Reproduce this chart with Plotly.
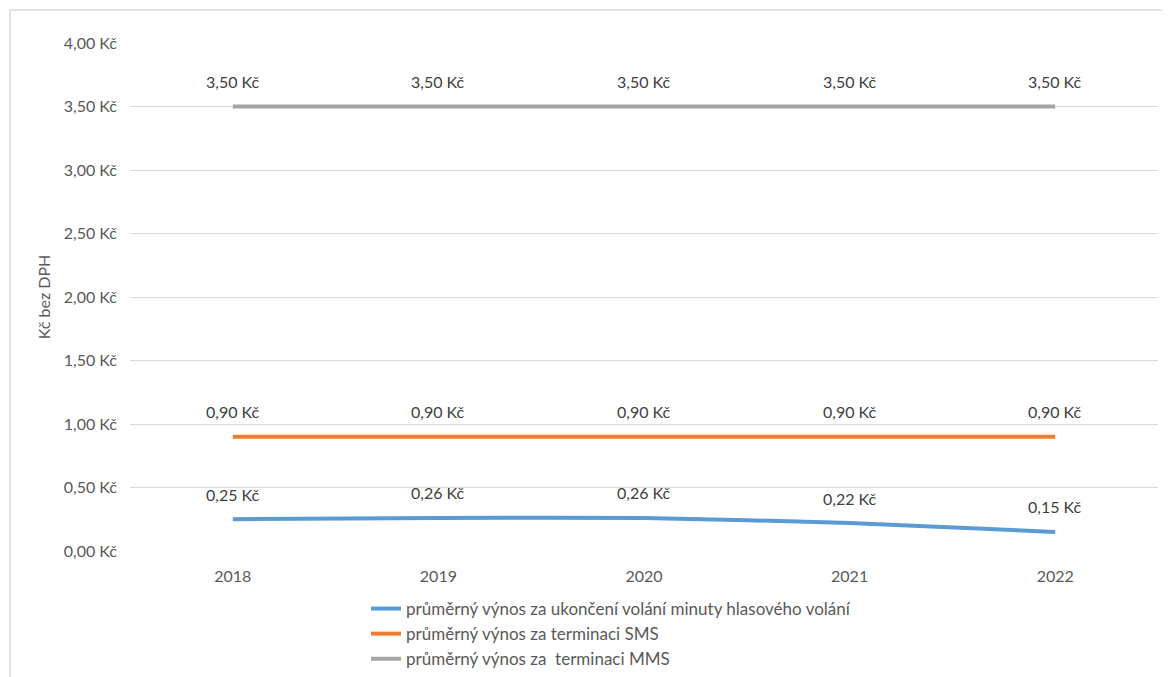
import plotly.graph_objects as go

years = ["2018", "2019", "2020", "2021", "2022"]
voice = [0.25, 0.26, 0.26, 0.22, 0.15]
sms = [0.90, 0.90, 0.90, 0.90, 0.90]
mms = [3.50, 3.50, 3.50, 3.50, 3.50]

names = [
    "průměrný výnos za ukončení volání minuty hlasového volání",
    "průměrný výnos za terminaci SMS",
    "průměrný výnos za  terminaci MMS",
]
colors = ["#5B9BD5", "#ED7D31", "#A5A5A5"]
series = [voice, sms, mms]

FONT = "Lato, 'Open Sans', sans-serif"
O = 8  # page body margin
W, H = 1170 - O, 677 - O
L, R, T, B = 130 - O, 1170 - 1158, 43 - O, 677 - 551
pw, ph = W - L - R, H - T - B


def fmt(v):
    return f"{v:.2f}".replace(".", ",") + " Kč"


fig = go.Figure()
annotations = []
for name, vals, col in zip(names, series, colors):
    fig.add_trace(go.Scatter(
        x=years, y=vals, name=name, mode="lines",
        line=dict(color=col, width=4, shape="spline", smoothing=0.6),
    ))
    for i, yv in enumerate(vals):
        annotations.append(dict(
            x=i, y=yv, xref="x", yref="y", text=fmt(yv), showarrow=False,
            yshift=25, font=dict(family=FONT, size=16, color="#404040"),
        ))


def px_x(px):
    return (px - O - L) / pw


def px_y(py):
    return (H - B - (py - O)) / ph


fig.update_layout(
    width=W, height=H,
    margin=dict(l=L, r=R, t=T, b=B, autoexpand=False),
    paper_bgcolor="white", plot_bgcolor="white",
    font=dict(family=FONT, size=16, color="#595959"),
    showlegend=True,
    legend=dict(
        x=px_x(366), y=px_y(591), xanchor="left", yanchor="top",
        orientation="v", font=dict(size=17, color="#595959"),
        tracegroupgap=0, itemwidth=30,
    ),
    xaxis=dict(
        type="category", range=[-0.5, 4.5], automargin=False,
        showgrid=False, zeroline=False, showline=False, ticks="",
        tickfont=dict(size=16, color="#595959"), ticklabelstandoff=14,
    ),
    yaxis=dict(
        range=[0, 4], dtick=0.5, tickformat=",.2f", automargin=False,
        ticksuffix=" Kč", showgrid=True, gridcolor="#D9D9D9", gridwidth=1,
        zeroline=False, showline=False, ticks="", ticklabelstandoff=12,
        tickfont=dict(size=16, color="#595959"),
        title=dict(text="Kč bez DPH", font=dict(size=16, color="#595959"), standoff=9),
    ),
    separators=", ",
    annotations=annotations,
    shapes=[
        dict(type="line", xref="paper", yref="paper",
             x0=px_x(10), x1=px_x(1180), y0=px_y(10), y1=px_y(10),
             line=dict(color="#D9D9D9", width=1.5)),
        dict(type="line", xref="paper", yref="paper",
             x0=px_x(10), x1=px_x(10), y0=px_y(10), y1=px_y(690),
             line=dict(color="#D9D9D9", width=1.5)),
    ],
)

fig.write_html("out.html")
